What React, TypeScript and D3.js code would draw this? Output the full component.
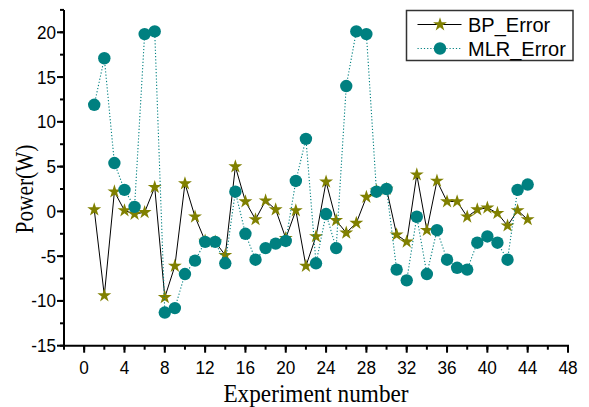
import React from "react";
import * as d3 from "d3";

const experiments = d3.range(1, 45);
const bpError = [
  0.2, -9.4, 2.2, 0.1, -0.3, -0.1, 2.7, -9.6, -6.1, 3.1,
  -0.6, -3.3, -3.4, -4.9, 5.0, 1.1, -0.9, 1.2, 0.2, -3.0,
  0.1, -6.1, -2.8, 3.3, -1.0, -2.4, -1.3, 1.6, 2.3, 2.5,
  -2.6, -3.4, 4.1, -2.1, 3.4, 1.1, 1.1, -0.6, 0.2, 0.4,
  -0.2, -1.6, 0.1, -0.9,
];
const mlrError = [
  11.9, 17.1, 5.4, 2.4, 0.5, 19.8, 20.1, -11.3, -10.8, -7.0,
  -5.5, -3.4, -3.4, -5.8, 2.2, -2.5, -5.4, -4.1, -3.6, -3.3,
  3.4, 8.1, -5.8, -0.3, -4.1, 14.0, 20.1, 19.8, 2.2, 2.5,
  -6.5, -7.7, -0.6, -7.0, -2.1, -5.4, -6.3, -6.5, -3.5, -2.8,
  -3.5, -5.4, 2.4, 3.0,
];
const xTicks = d3.range(0, 49, 4);
const xMinor = d3.range(-2, 49, 2);
const yTicks = d3.range(-15, 21, 5);
const yMinor = d3.range(-15, 22.6, 2.5);
const seriesNames = ["BP_Error", "MLR_Error"];

const OLIVE = "#808000";
const TEAL = "#008080";
const SANS = "'Liberation Sans', Arial, sans-serif";
const SERIF = "'Liberation Serif', 'Times New Roman', serif";

function T({ x, y, size, sx = 1, anchor = "start", family = SANS, vertical = false, children }: any) {
  const tr = vertical
    ? `translate(${x},${y}) scale(1,${sx}) rotate(-90)`
    : `translate(${x},${y}) scale(${sx},1)`;
  return (
    <text transform={tr} fontSize={size} fontFamily={family} textAnchor={anchor} fill="#000">
      {children}
    </text>
  );
}

export default function App() {
  const W = 589, H = 407;
  const x = d3.scaleLinear().domain([-2, 48]).range([64, 568]);
  const y = d3.scaleLinear().domain([-15, 22.5]).range([345.7, 9.9]);
  const star = d3.symbol().type(d3.symbolStar).size(60)();
  const bpLine = d3.line<number>().x((_, i) => x(experiments[i])).y((d) => y(d))(bpError) || "";
  const mlrLine = d3.line<number>().x((_, i) => x(experiments[i])).y((d) => y(d))(mlrError) || "";
  const y0 = y(-15);
  const x0 = x(-2);
  return (
    <svg width={W} height={H} style={{ position: "absolute", left: 0, top: 0, background: "#fff" }}>
      <rect width={W} height={H} fill="#fff" />
      <path d={bpLine} fill="none" stroke="#000" strokeWidth={1} />
      {bpError.map((v, i) => (
        <path key={"s" + i} d={star} transform={`translate(${x(experiments[i])},${y(v)})`} fill={OLIVE} />
      ))}
      <path d={mlrLine} fill="none" stroke={TEAL} strokeWidth={1.1} strokeDasharray="1.2,2" />
      {mlrError.map((v, i) => (
        <circle key={"c" + i} cx={x(experiments[i])} cy={y(v)} r={6.2} fill={TEAL} />
      ))}
      <line x1={x0} x2={x(48) + 1} y1={y0} y2={y0} stroke="#000" strokeWidth={2} />
      <line x1={x0} x2={x0} y1={y(22.5)} y2={y0 + 1} stroke="#000" strokeWidth={2} />
      {xMinor.map((t) => (
        <line key={"xm" + t} x1={x(t)} x2={x(t)} y1={y0} y2={y0 + 4} stroke="#000" strokeWidth={2} />
      ))}
      {xTicks.map((t) => (
        <g key={"x" + t}>
          <line x1={x(t)} x2={x(t)} y1={y0} y2={y0 + 7} stroke="#000" strokeWidth={2} />
          <T x={x(t)} y={374} size={18.5} sx={0.93} anchor="middle">{t}</T>
        </g>
      ))}
      {yMinor.map((t) => (
        <line key={"ym" + t} x1={x0 - 4} x2={x0} y1={y(t)} y2={y(t)} stroke="#000" strokeWidth={2} />
      ))}
      {yTicks.map((t) => (
        <g key={"y" + t}>
          <line x1={x0 - 7} x2={x0} y1={y(t)} y2={y(t)} stroke="#000" strokeWidth={2} />
          <T x={56} y={y(t) + 6.5} size={18} sx={0.95} anchor="end">{t}</T>
        </g>
      ))}
      <T x={316} y={402} size={25} sx={0.93} anchor="middle" family={SERIF}>Experiment number</T>
      <T x={33} y={189} size={26} sx={0.82} anchor="middle" vertical family={SERIF}>Power(W)</T>
      <rect x={406.5} y={10.5} width={166.5} height={50} fill="#fff" stroke="#333" strokeWidth={1.5} />
      <line x1={417.5} x2={461.5} y1={24.5} y2={24.5} stroke="#000" strokeWidth={1} />
      <path d={star} transform="translate(440,24.5)" fill={OLIVE} />
      <T x={468} y={31.5} size={20}>{seriesNames[0]}</T>
      <line x1={417.5} x2={461.5} y1={48.5} y2={48.5} stroke={TEAL} strokeWidth={1.1} strokeDasharray="1.2,2" />
      <circle cx={440} cy={48.5} r={6.2} fill={TEAL} />
      <T x={468} y={55.5} size={20}>{seriesNames[1]}</T>
    </svg>
  );
}
